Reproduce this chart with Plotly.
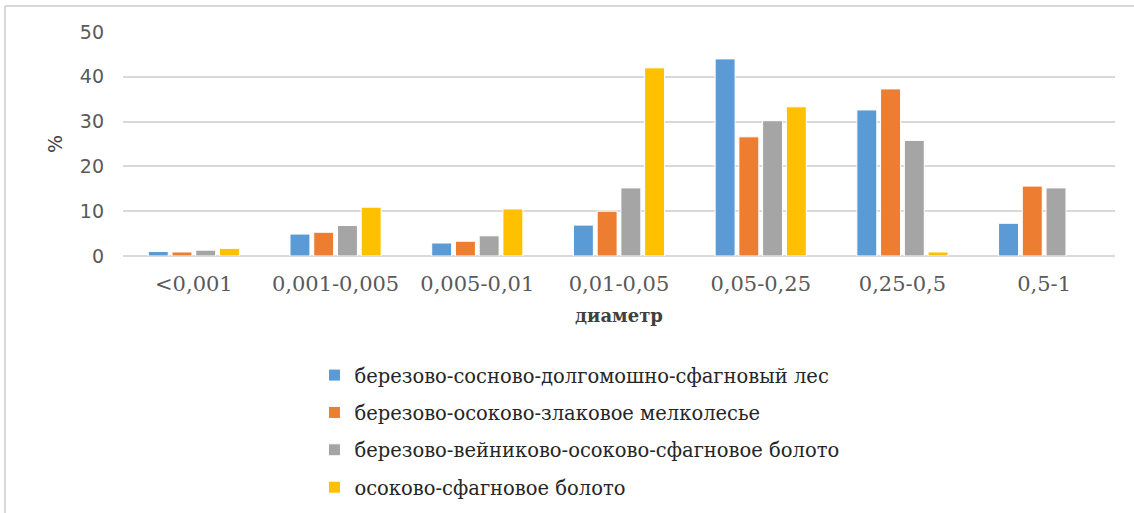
import plotly.graph_objects as go

# grain size classes (mm)
categories = ['<0,001', '0,001-0,005', '0,005-0,01', '0,01-0,05', '0,05-0,25', '0,25-0,5', '0,5-1']

series_names = [
    'березово-сосново-долгомошно-сфагновый лес',
    'березово-осоково-злаковое мелколесье',
    'березово-вейниково-осоково-сфагновое болото',
    'осоково-сфагновое болото',
]
birch_pine_forest = [1.0, 4.9, 2.9, 6.9, 44.0, 32.6, 7.3]
birch_sedge_woodland = [0.9, 5.3, 3.3, 10.0, 26.6, 37.3, 15.6]
birch_reed_bog = [1.3, 6.8, 4.5, 15.2, 30.2, 25.8, 15.2]
sedge_sphagnum_bog = [1.7, 10.9, 10.5, 42.0, 33.3, 0.9, None]  # no bar for 0,5-1

series_values = [birch_pine_forest, birch_sedge_woodland, birch_reed_bog, sedge_sphagnum_bog]
colors = ['#5B9BD5', '#ED7D31', '#A5A5A5', '#FFC000']

fig = go.Figure()
for i, (name, vals) in enumerate(zip(series_names, series_values)):
    fig.add_trace(go.Bar(
        x=categories, y=vals, name=name, legendgroup=str(i),
        marker=dict(color=colors[i], line=dict(color='white', width=1)),
    ))

fig.update_layout(
    width=1134, height=513,
    paper_bgcolor='white', plot_bgcolor='white',
    margin=dict(l=123, r=19, t=32, b=257, autoexpand=False),
    barmode='group', bargap=0.33, bargroupgap=0.16,
    showlegend=True,
    legend=dict(
        x=0.193, y=-0.446, xanchor='left', yanchor='top',
        font=dict(family='DejaVu Serif', size=19.5, color='#262626'),
        tracegroupgap=9, itemwidth=30,
    ),
)
fig.update_xaxes(
    type='category', automargin=False,
    showgrid=False, showline=False, zeroline=False,
    ticks='', ticklabelstandoff=13,
    tickfont=dict(family='DejaVu Serif', size=21, color='#595959'),
    title=dict(text='<b>диаметр</b>', standoff=14,
               font=dict(family='DejaVu Serif', size=18, color='#404040')),
)
fig.update_yaxes(
    range=[0, 50], dtick=10, automargin=False,
    showgrid=True, gridcolor='#D9D9D9', gridwidth=2,
    zeroline=True, zerolinecolor='#D9D9D9', zerolinewidth=2,
    showline=False, ticks='', ticklabelstandoff=18,
    tickfont=dict(family='DejaVu Sans', size=19, color='#595959'),
    title=dict(text='%', standoff=12,
               font=dict(family='DejaVu Sans', size=19, color='#404040')),
)

# light frame around the chart area (as in the source image)
fig.add_shape(type='line', xref='paper', yref='paper',
              x0=-0.119, x1=1.1, y0=1.116, y1=1.116,
              line=dict(color='#D9D9D9', width=2))
fig.add_shape(type='line', xref='paper', yref='paper',
              x0=-0.119, x1=-0.119, y0=1.116, y1=-1.2,
              line=dict(color='#D9D9D9', width=2))

# drop the default 8px page margin so the figure fills the window exactly
fig.write_html('out.html', config={'displayModeBar': False},
               post_script="document.body.style.margin='0';")
